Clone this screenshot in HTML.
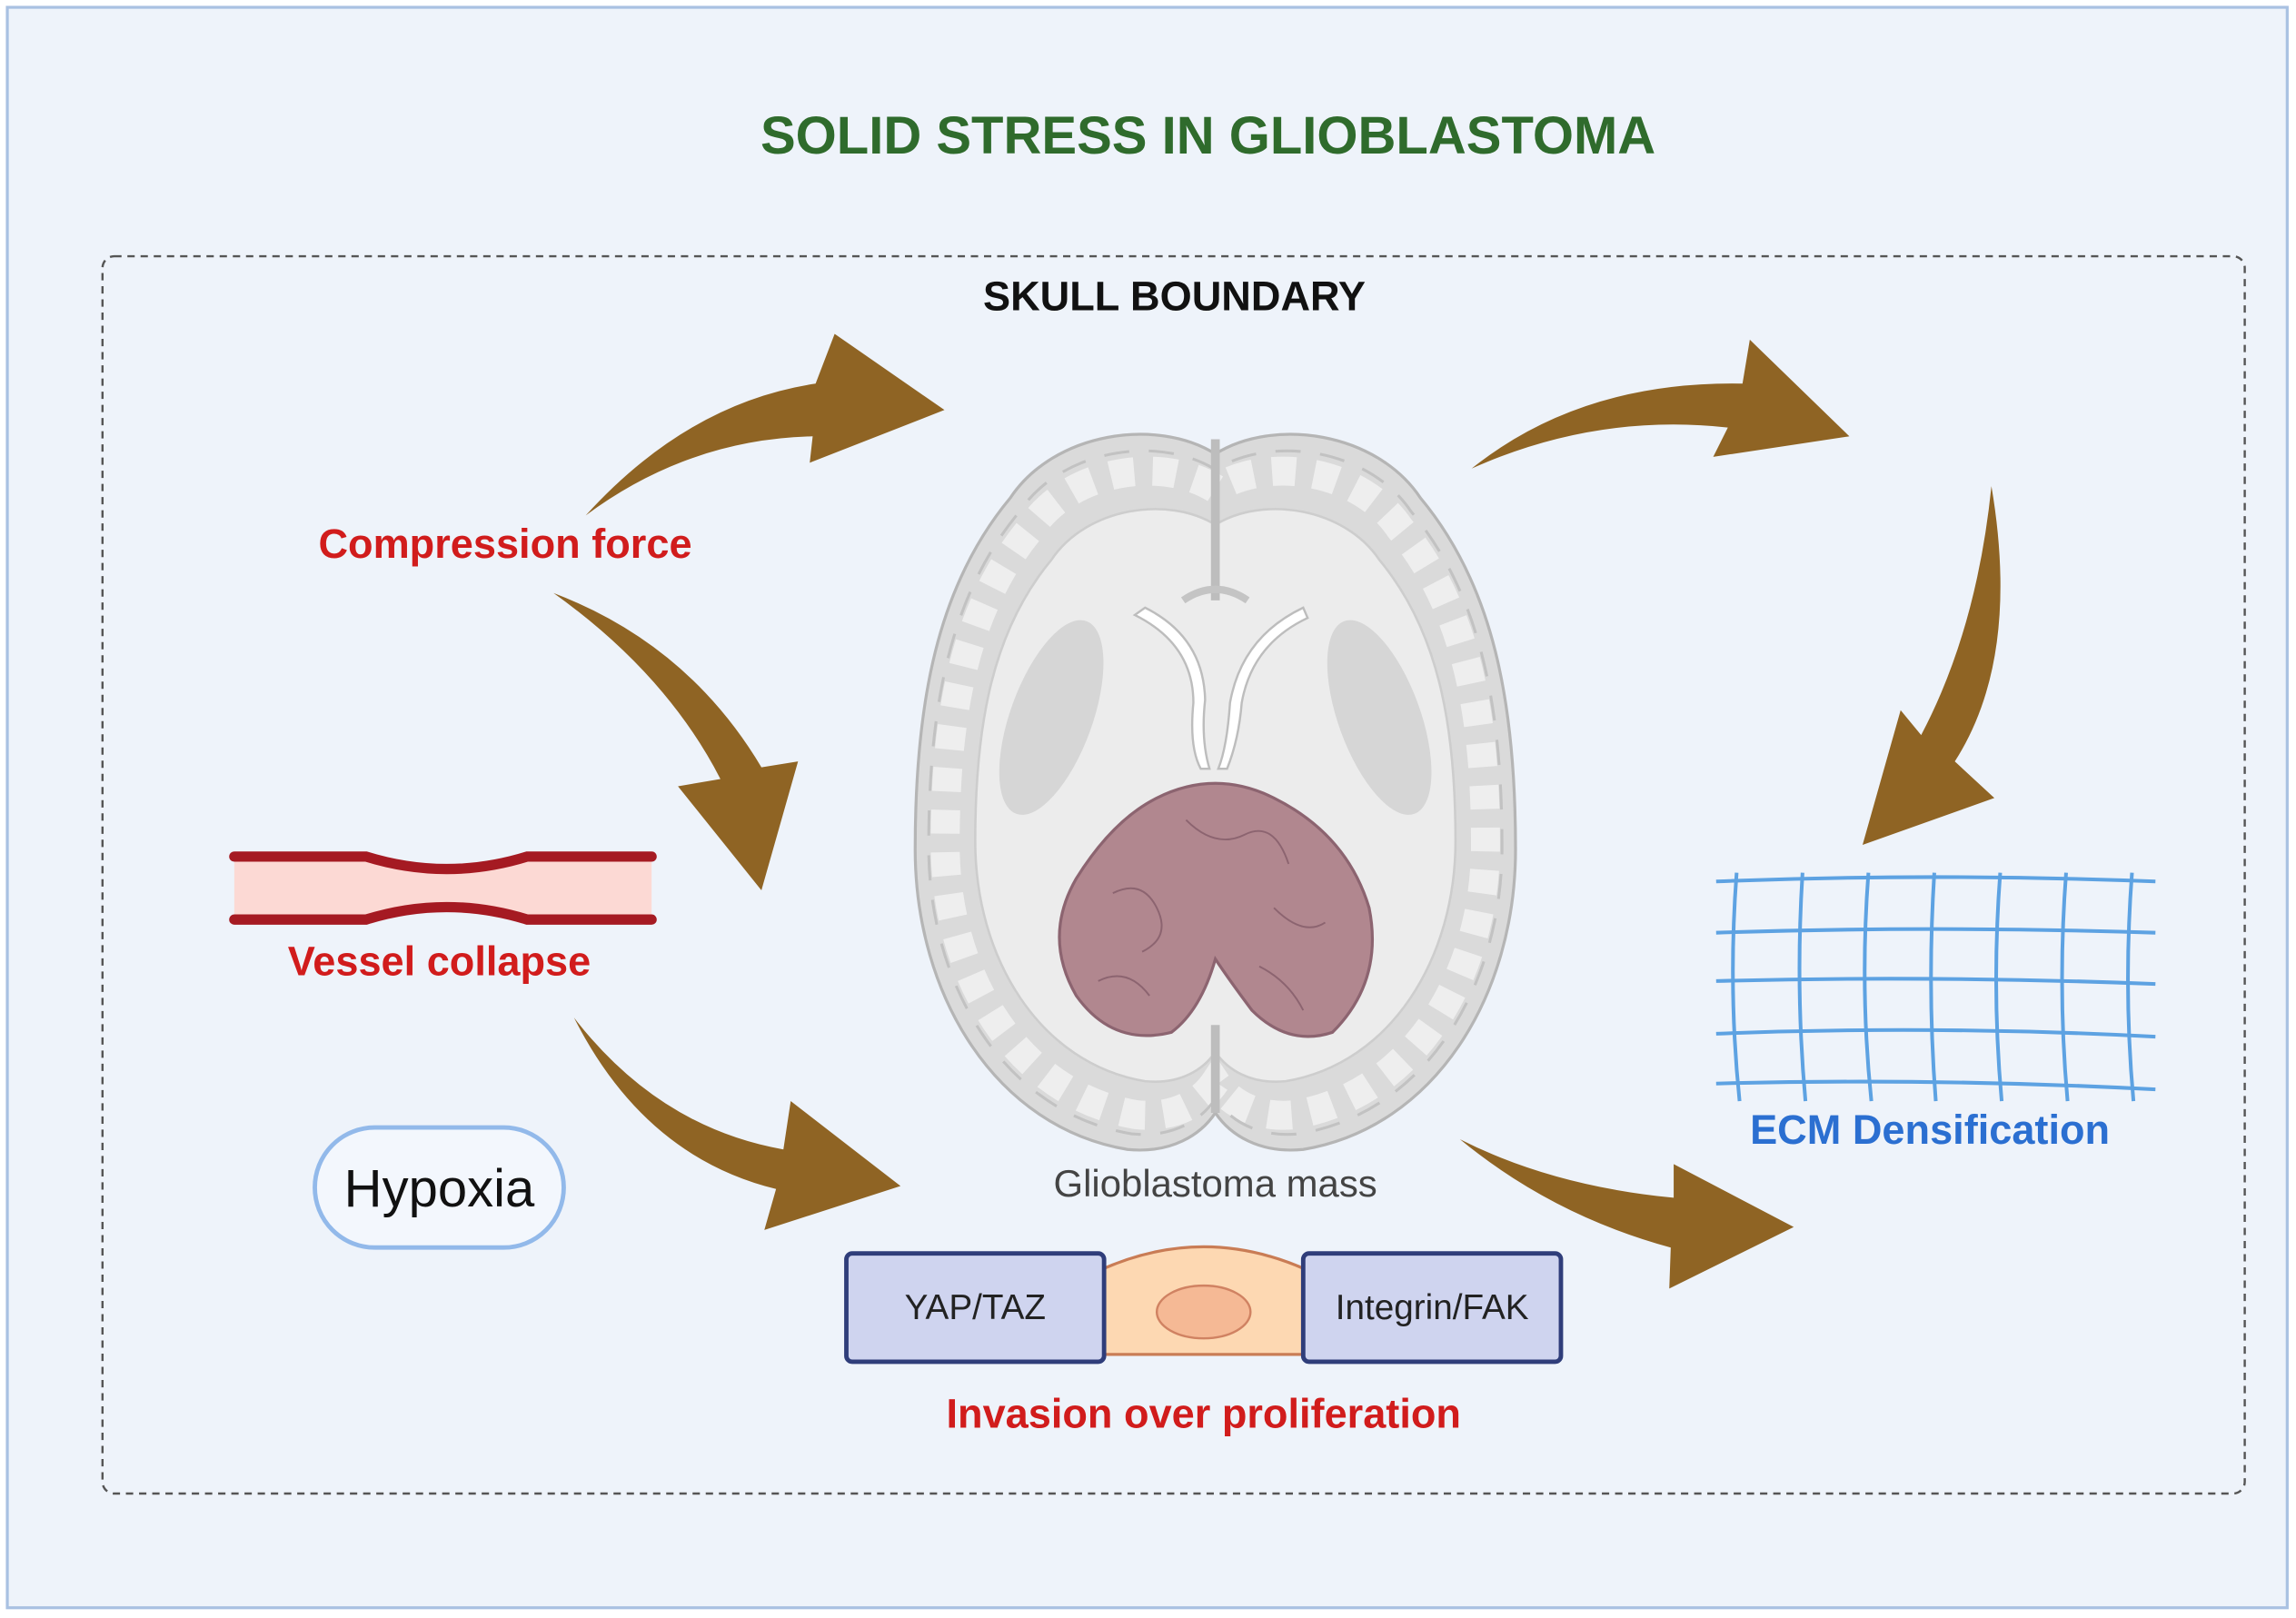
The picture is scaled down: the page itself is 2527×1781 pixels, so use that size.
<!DOCTYPE html>
<html><head><meta charset="utf-8"><style>
html,body{margin:0;padding:0;background:#fff;}
svg{display:block;}
text{font-family:"Liberation Sans",Arial,sans-serif;}
</style></head><body>
<svg width="2527" height="1781" viewBox="0 0 1568 1105" preserveAspectRatio="none" xmlns="http://www.w3.org/2000/svg">
<defs>
<path id="br" d="M830,310 C790,285 720,295 690,340 C640,400 625,480 625,580 C625,680 680,770 770,785 C800,788 820,775 830,760 C840,775 860,788 890,785 C980,770 1035,680 1035,580 C1035,480 1020,400 970,340 C940,295 870,285 830,310 Z"/>
</defs>
<rect x="0" y="0" width="1568" height="1105" fill="#ffffff"/>
<rect x="5" y="5" width="1557" height="1093" fill="#eef3fa" stroke="#a9c1e2" stroke-width="2"/>
<text x="825" y="105" text-anchor="middle" font-size="36" font-weight="bold" fill="#2f6b2c">SOLID STRESS IN GLIOBLASTOMA</text>
<rect x="70" y="175" width="1463" height="845" rx="8" fill="none" stroke="#555" stroke-width="1.5" stroke-dasharray="5,4"/>
<text x="802" y="212" text-anchor="middle" font-size="28" font-weight="bold" fill="#111">SKULL BOUNDARY</text>

<g fill="#8f6424">
<path d="M400,352 Q470,275 557,262 L570,228 L645,280 L553,316 L555,298 Q470,300 400,352 Z"/>
<path d="M378,405 Q470,440 520,524 L545,520 L520,608 L463,537 L492,532 Q455,460 378,405 Z"/>
<path d="M392,695 Q450,770 535,785 L540,752 L615,810 L522,840 L530,812 Q440,790 392,695 Z"/>
<path d="M1005,320 Q1080,260 1190,262 L1195,232 L1263,298 L1170,312 L1180,292 Q1090,282 1005,320 Z"/>
<path d="M1360,332 Q1380,450 1335,520 L1362,545 L1272,577 L1298,485 L1312,502 Q1350,430 1360,332 Z"/>
<path d="M997,778 Q1060,810 1143,818 L1143,795 L1225,838 L1140,880 L1141,852 Q1060,830 997,778 Z"/>
</g>

<text x="345" y="381" text-anchor="middle" font-size="28" font-weight="bold" fill="#d11c1c">Compression force</text>

<path d="M160,585 L250,585 Q305,602 360,585 L445,585 L445,628 L360,628 Q305,611 250,628 L160,628 Z" fill="#fcd9d4"/>
<path d="M160,585 L250,585 Q305,602 360,585 L445,585" fill="none" stroke="#a51a22" stroke-width="7" stroke-linecap="round"/>
<path d="M160,628 L250,628 Q305,611 360,628 L445,628" fill="none" stroke="#a51a22" stroke-width="7" stroke-linecap="round"/>
<text x="300" y="666" text-anchor="middle" font-size="28" font-weight="bold" fill="#d11c1c">Vessel collapse</text>

<rect x="215" y="770" width="170" height="82" rx="41" fill="#f3f7fd" stroke="#92b9ea" stroke-width="3"/>
<text x="300" y="824" text-anchor="middle" font-size="36" fill="#111">Hypoxia</text>

<!-- brain -->
<use href="#br" fill="#dadada" stroke="#b5b5b5" stroke-width="2"/>
<use href="#br" fill="none" stroke="#eeeeee" stroke-width="22" stroke-dasharray="18,14" transform="translate(830,548) scale(0.9) translate(-830,-548)"/>
<use href="#br" fill="none" stroke="#c2c2c2" stroke-width="2" stroke-dasharray="18,14" transform="translate(830,548) scale(0.955) translate(-830,-548)"/>
<use href="#br" fill="#ececec" stroke="#cdcdcd" stroke-width="2" transform="translate(830,552) scale(0.8) translate(-830,-552)"/>
<path d="M830,300 L830,410 M830,760 L830,700" stroke="#bdbdbd" stroke-width="6"/>
<path d="M808,410 Q830,395 852,410" fill="none" stroke="#c4c4c4" stroke-width="5"/>
<ellipse cx="718" cy="490" rx="28" ry="70" fill="#d6d6d6" transform="rotate(20 718 490)"/>
<ellipse cx="942" cy="490" rx="28" ry="70" fill="#d6d6d6" transform="rotate(-20 942 490)"/>
<path d="M775,420 Q815,440 815,480 Q812,510 820,525 L826,525 Q820,505 823,478 Q822,435 782,415 Z" fill="#fff" stroke="#bdbdbd" stroke-width="1.5"/>
<path d="M890,415 Q848,435 840,480 Q838,510 832,525 L838,525 Q846,505 848,480 Q855,440 893,422 Z" fill="#fff" stroke="#bdbdbd" stroke-width="1.5"/>
<path d="M830,655 Q820,690 800,705 Q760,715 735,680 Q712,640 735,600 Q760,560 790,545 Q830,525 870,545 Q920,570 935,620 Q945,670 910,705 Q880,715 855,690 Q840,670 830,655 Z" fill="#b1878f" stroke="#8c6470" stroke-width="2"/>
<g fill="none" stroke="#8c6470" stroke-width="1.2">
<path d="M760,610 Q780,600 790,620 Q800,640 780,650"/>
<path d="M810,560 Q830,580 850,570 Q870,560 880,590"/>
<path d="M870,620 Q890,640 905,630"/>
<path d="M750,670 Q770,660 785,680"/>
<path d="M860,660 Q880,670 890,690"/>
</g>
<text x="830" y="817" text-anchor="middle" font-size="26" fill="#444">Glioblastoma mass</text>

<path d="M750,925 L750,868 Q822,835 894,868 L894,925 Z" fill="#fdd8b2" stroke="#c97c55" stroke-width="2"/>
<ellipse cx="822" cy="896" rx="32" ry="18" fill="#f5b995" stroke="#d08262" stroke-width="1.5"/>
<rect x="578" y="856" width="176" height="74" rx="4" fill="#cfd4ef" stroke="#2f3d7a" stroke-width="3"/>
<text x="666" y="901" text-anchor="middle" font-size="24" fill="#222">YAP/TAZ</text>
<rect x="890" y="856" width="176" height="74" rx="4" fill="#cfd4ef" stroke="#2f3d7a" stroke-width="3"/>
<text x="978" y="901" text-anchor="middle" font-size="24" fill="#222">Integrin/FAK</text>
<text x="822" y="975" text-anchor="middle" font-size="28" font-weight="bold" fill="#d11c1c">Invasion over proliferation</text>

<g fill="none" stroke="#5da2e2" stroke-width="2.5">
<path d="M1172,602 Q1320,596 1472,602"/>
<path d="M1172,637 Q1320,632 1472,637"/>
<path d="M1172,670 Q1320,666 1472,672"/>
<path d="M1172,706 Q1320,700 1472,708"/>
<path d="M1172,740 Q1320,736 1472,744"/>
<path d="M1186,596 Q1180,675 1188,752"/>
<path d="M1231,596 Q1226,675 1233,752"/>
<path d="M1276,596 Q1270,675 1278,752"/>
<path d="M1321,596 Q1316,675 1322,752"/>
<path d="M1366,596 Q1360,675 1367,752"/>
<path d="M1411,596 Q1405,675 1412,752"/>
<path d="M1456,596 Q1450,675 1457,752"/>
</g>
<text x="1318" y="781" text-anchor="middle" font-size="28" font-weight="bold" fill="#2b6fd1">ECM Densification</text>
</svg>
</body></html>
